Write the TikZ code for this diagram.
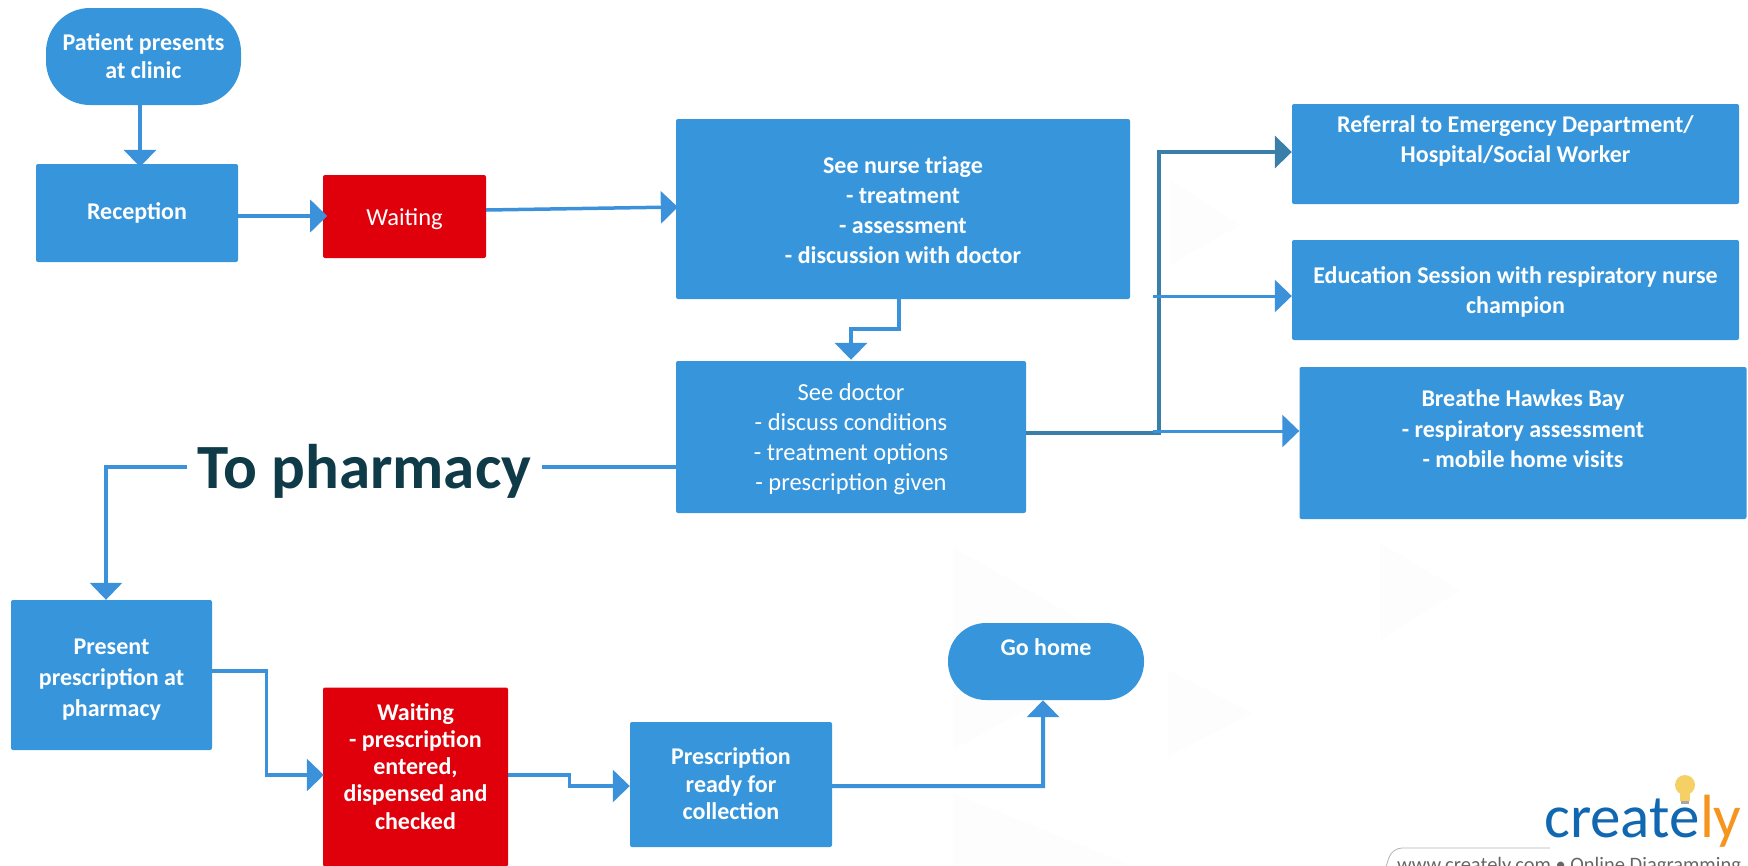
\documentclass[tikz,border=0pt]{standalone}
\usepackage{fontspec}
\setmainfont{Carlito}
\usetikzlibrary{arrows.meta}
\definecolor{boxblue}{HTML}{3796DB}
\definecolor{boxred}{HTML}{E0000B}
\definecolor{arrowblue}{HTML}{3B92DB}
\definecolor{arrowdark}{HTML}{3A7FAA}
\definecolor{pharm}{HTML}{0F3A47}
\definecolor{logoblue}{HTML}{1168B0}
\definecolor{logoorange}{HTML}{F5941F}
\definecolor{bulb}{HTML}{F5D165}
\definecolor{wmark}{HTML}{FDFDFD}
\newcommand{\bt}[4]{\raisebox{\dimexpr#1pt-8.5pt\relax}[0pt][0pt]{\fontsize{#2}{#3}\selectfont\begin{tabular}[c]{@{}c@{}}#4\end{tabular}}}
\tikzset{
  x=1pt,y=-1pt,
  bluebox/.style={fill=boxblue,draw=none,inner sep=0pt,rounded corners=2pt,text=white},
  redbox/.style={bluebox,fill=boxred},
  stadium/.style={bluebox,rounded corners=38pt},
  link/.style={draw=arrowblue,line width=4pt,-{Triangle[length=17pt,width=32pt]}},
  linkthin/.style={link,line width=3pt},
  linkdark/.style={link,draw=arrowdark,arrowdark},
  plain/.style={draw=arrowblue,line width=3.2pt},
  plaintip/.style={plain,-{Triangle[length=17pt,width=32pt]}},
}
\begin{document}
\begin{tikzpicture}
\useasboundingbox (0,0) rectangle (1748,865);
% faint watermark
\fill[wmark] (1170,180) -- (1240,225) -- (1170,265) -- cycle;
\fill[wmark] (953,547) -- (1133,650) -- (953,750) -- cycle;
\fill[wmark] (1168,670) -- (1252,713) -- (1168,757) -- cycle;
\fill[wmark] (1380,543) -- (1460,590) -- (1380,640) -- cycle;
\fill[wmark] (953,793) -- (1130,865) -- (953,865) -- cycle;

\node[stadium,font=\bfseries,minimum width=195pt,minimum height=97pt,rounded corners=44pt] (patient) at (143.5,56.5) {\bt{-0.5}{24}{28}{Patient presents\\at clinic}};
\node[bluebox,font=\bfseries,minimum width=202pt,minimum height=98pt] (reception) at (137,213) {\bt{1}{24}{28}{Reception}};
\node[redbox,minimum width=163pt,minimum height=83pt] (waitA) at (404.5,216.5) {\bt{-1.5}{24.5}{28}{Waiting}};
\node[bluebox,font=\bfseries,minimum width=454pt,minimum height=180pt] (nurse) at (903,209) {\bt{-1}{24}{30}{See nurse triage\\- treatment\\- assessment\\- discussion with doctor}};
\node[bluebox,minimum width=350pt,minimum height=152pt] (doctor) at (851,437) {\bt{0}{24.5}{30}{See doctor\\- discuss conditions\\- treatment options\\- prescription given}};
\node[bluebox,font=\bfseries,minimum width=447pt,minimum height=100pt] (referral) at (1515.5,154) {\bt{15}{24}{30}{Referral to Emergency Department/\\Hospital/Social Worker}};
\node[bluebox,font=\bfseries,minimum width=447pt,minimum height=100pt] (education) at (1515.5,290) {\bt{0}{24}{30}{Education Session with respiratory nurse\\champion}};
\node[bluebox,font=\bfseries,minimum width=447pt,minimum height=152pt] (breathe) at (1523,443) {\bt{14}{24}{30.5}{Breathe Hawkes Bay\\- respiratory assessment\\- mobile home visits}};
\node[bluebox,font=\bfseries,minimum width=201pt,minimum height=150pt] (present) at (111.5,675) {\bt{-2}{24}{31}{Present\\prescription at\\pharmacy}};
\node[redbox,font=\bfseries,minimum width=185pt,minimum height=179pt] (waitB) at (415.5,777) {\bt{10}{24}{27.2}{Waiting\\- prescription\\entered,\\dispensed and\\checked}};
\node[bluebox,font=\bfseries,minimum width=202pt,minimum height=125pt] (ready) at (731,784.5) {\bt{0}{24}{27.5}{Prescription\\ready for\\collection}};
\node[stadium,font=\bfseries,minimum width=196pt,minimum height=77pt] (gohome) at (1046,661.5) {\bt{14}{24}{28}{Go home}};

\node[font=\bfseries\fontsize{63}{63}\selectfont,text=pharm,inner sep=0pt,minimum width=354pt,minimum height=60pt] (topharmacy) at (364.5,467) {\raisebox{-21pt}[0pt][0pt]{To pharmacy}};

\coordinate (hub) at (1159,296);
\coordinate (eduStart) at (1153,296);
\coordinate (brStart) at (1153,431);
\coordinate (pharmCorner) at (106,467);

\draw[link] ([xshift=-3.5pt]patient.south) -- ([xshift=3pt,yshift=-3pt]reception.north);
\draw[link] ([yshift=-3pt]reception.east) -- ([yshift=-3pt,xshift=89pt]reception.east);
\draw[link,line width=3.5pt] ([yshift=6.5pt]waitA.east) -- ([yshift=2pt,xshift=2pt]nurse.west);
\draw[link] ([xshift=-4pt]nurse.south) -- ++(0,30) -| ([yshift=1pt]doctor.north);
\draw[linkdark] ([yshift=4pt]doctor.east) -- ([yshift=4pt]doctor.east -| hub) |- ([yshift=2pt]referral.west);
\draw[linkthin] (eduStart) -- (eduStart -| education.west);
\draw[linkthin] (brStart) -- (brStart -| breathe.west);
\draw[plain] ([yshift=-30pt]doctor.west) -- (topharmacy.east);
\draw[plaintip] (topharmacy.west) -- (pharmCorner) -- (pharmCorner |- present.north);
\draw[plaintip] ([yshift=4pt]present.east) -- ++(54,0) |- ([yshift=2pt,xshift=1pt]waitB.west);
\draw[plaintip] ([yshift=2pt]waitB.east) -- ++(61,0) -- ++(0,11) -- ([yshift=-1.5pt]ready.west);
\draw[link] ([yshift=-1.5pt]ready.east) -- ++(211,0) -- ([xshift=-3pt]gohome.south);

% logo
\fill[bulb] (1685,785) circle[radius=10pt];
\fill[bulb] (1680,790) rectangle (1690,801);
\fill[black!35] (1681,801) rectangle (1689,804);
\node[inner sep=0pt,anchor=base west,font=\fontsize{61}{61}\selectfont,text=logoblue] (logoA) at (1544,837) {create};
\node[inner sep=0pt,anchor=base west,font=\fontsize{61}{61}\selectfont,text=logoorange] (logoB) at (logoA.base east) {ly};
\draw[black!30,line width=0.8pt,rounded corners=10pt] (1550,848) -- (1392,848) -- (1385,870);
\node[inner sep=0pt,anchor=base west,font=\fontsize{20.5}{20.5}\selectfont,text=black!60] (logoC) at (1397,871) {www.creately.com • Online Diagramming};
\end{tikzpicture}
\end{document}
